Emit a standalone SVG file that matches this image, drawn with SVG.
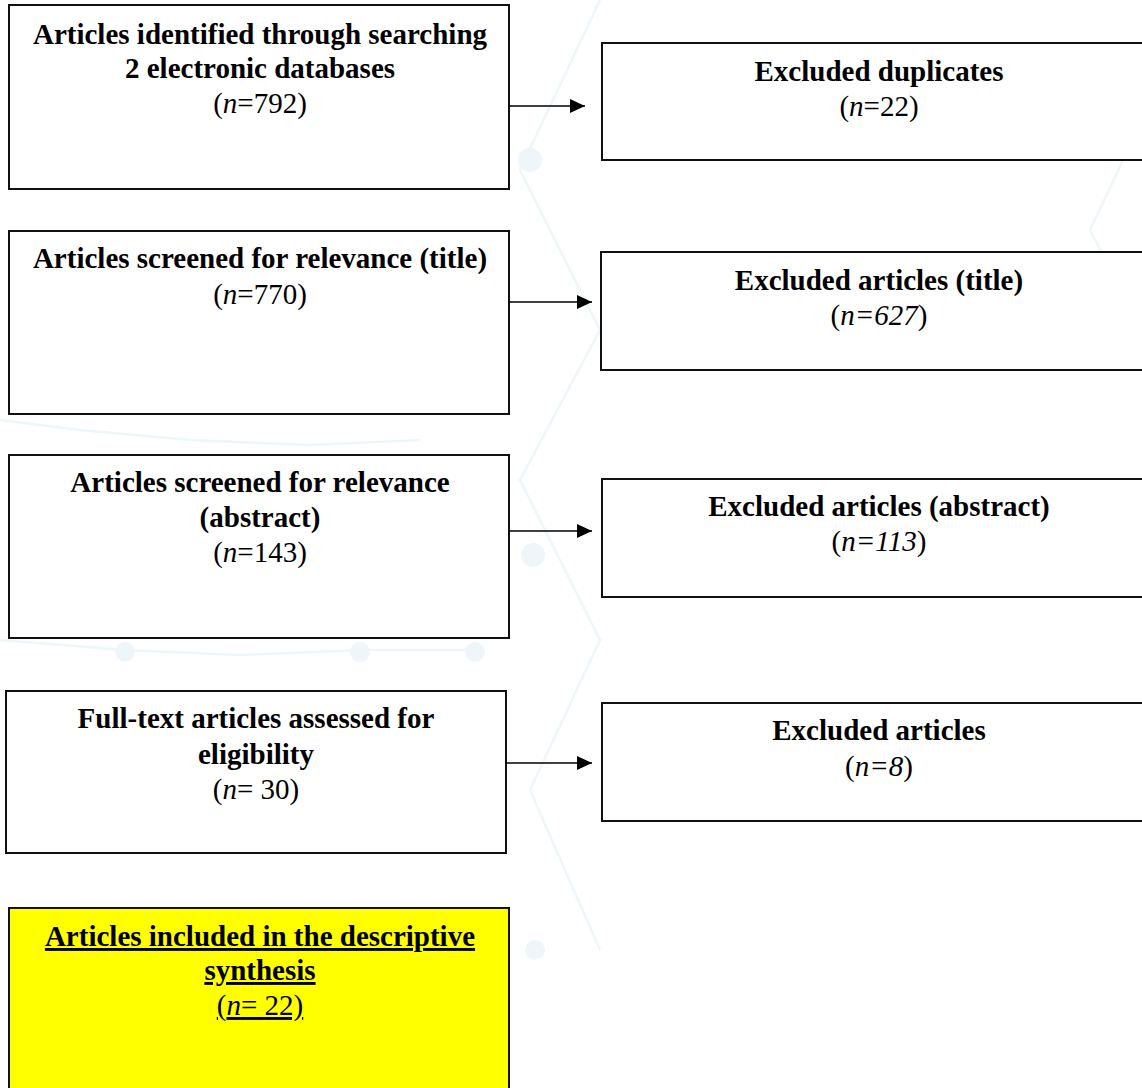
<svg xmlns="http://www.w3.org/2000/svg" width="1142" height="1088" viewBox="0 0 1142 1088">
<style>
.box{fill:#ffffff;stroke:#111111;stroke-width:2}
.yel{fill:#ffff00;stroke:#111111;stroke-width:2}
.b{font-family:"Liberation Serif","Times New Roman",serif;font-weight:bold;font-size:29px;fill:#000;text-anchor:middle}
.n{font-family:"Liberation Serif","Times New Roman",serif;font-size:29px;fill:#000;text-anchor:middle}
.u{text-decoration:underline}
.conn{stroke:#000;stroke-width:1.6;fill:none}
.bg{stroke:#eef6f9;stroke-width:2.5;fill:none}
.dot{fill:#eef6f9}
</style>
<defs>
<marker id="ah" viewBox="0 0 15 14" refX="15" refY="7" markerWidth="15" markerHeight="14" markerUnits="userSpaceOnUse" orient="auto">
<path d="M0,0 L15,7 L0,14 Z" fill="#000"/>
</marker>
</defs>
<rect width="1142" height="1088" fill="#ffffff"/>
<g id="background">
<path class="bg" d="M600,0 L520,170 L600,330 L520,480 L600,640 L530,790 L600,950"/>
<path class="bg" d="M0,640 L125,650 L240,655 L360,650 L475,650"/>
<path class="bg" d="M0,420 L80,430 L190,440 L310,445 L420,440"/>
<path class="bg" d="M1142,120 L1090,230 L1142,330"/>
<circle class="dot" cx="530" cy="160" r="12"/>
<circle class="dot" cx="533" cy="555" r="12"/>
<circle class="dot" cx="475" cy="652" r="10"/>
<circle class="dot" cx="360" cy="652" r="10"/>
<circle class="dot" cx="125" cy="652" r="10"/>
<circle class="dot" cx="535" cy="950" r="10"/>
</g>
<g id="node-identified">
<rect class="box" x="9" y="5" width="500" height="184"/>
<text class="b" x="260" y="44">Articles identified through searching</text>
<text class="b" x="260" y="78">2 electronic databases</text>
<text class="n" x="260" y="113">(<tspan font-style="italic">n</tspan>=792)</text>
</g>
<g id="node-duplicates">
<rect class="box" x="602" y="43" width="545" height="117"/>
<text class="b" x="879" y="81">Excluded duplicates</text>
<text class="n" x="879" y="116">(<tspan font-style="italic">n</tspan>=22)</text>
</g>
<g id="node-title">
<rect class="box" x="9" y="231" width="500" height="183"/>
<text class="b" x="260" y="268">Articles screened for relevance (title)</text>
<text class="n" x="260" y="304">(<tspan font-style="italic">n</tspan>=770)</text>
</g>
<g id="node-excl-title">
<rect class="box" x="601" y="252" width="546" height="118"/>
<text class="b" x="879" y="290">Excluded articles (title)</text>
<text class="n" x="879" y="325">(<tspan font-style="italic">n=627</tspan>)</text>
</g>
<g id="node-abstract">
<rect class="box" x="9" y="455" width="500" height="183"/>
<text class="b" x="260" y="492">Articles screened for relevance</text>
<text class="b" x="260" y="527">(abstract)</text>
<text class="n" x="260" y="562">(<tspan font-style="italic">n</tspan>=143)</text>
</g>
<g id="node-excl-abstract">
<rect class="box" x="602" y="479" width="545" height="118"/>
<text class="b" x="879" y="516">Excluded articles (abstract)</text>
<text class="n" x="879" y="551">(<tspan font-style="italic">n=113</tspan>)</text>
</g>
<g id="node-fulltext">
<rect class="box" x="6" y="691" width="500" height="162"/>
<text class="b" x="256" y="728">Full-text articles assessed for</text>
<text class="b" x="256" y="764">eligibility</text>
<text class="n" x="256" y="799">(<tspan font-style="italic">n</tspan>= 30)</text>
</g>
<g id="node-excl-fulltext">
<rect class="box" x="602" y="703" width="545" height="118"/>
<text class="b" x="879" y="740">Excluded articles</text>
<text class="n" x="879" y="776">(<tspan font-style="italic">n=8</tspan>)</text>
</g>
<g id="node-included">
<rect class="yel" x="9" y="908" width="500" height="190"/>
<text class="b u" x="260" y="946">Articles included in the descriptive</text>
<text class="b u" x="260" y="980">synthesis</text>
<text class="n u" x="260" y="1015">(<tspan font-style="italic">n</tspan>= 22)</text>
</g>
<g id="connectors">
<line class="conn" x1="509" y1="106" x2="585" y2="106" marker-end="url(#ah)"/>
<line class="conn" x1="509" y1="302" x2="592" y2="302" marker-end="url(#ah)"/>
<line class="conn" x1="509" y1="531" x2="592" y2="531" marker-end="url(#ah)"/>
<line class="conn" x1="506" y1="763" x2="592" y2="763" marker-end="url(#ah)"/>
</g>
</svg>
